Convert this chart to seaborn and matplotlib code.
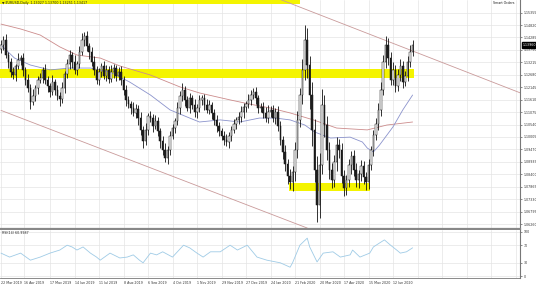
import matplotlib
matplotlib.use("Agg")
import matplotlib.pyplot as plt
import seaborn as sns
import pandas as pd

# ---------------- data ----------------
closes = [
    1.1396, 1.1418, 1.1353, 1.1323, 1.1280, 1.1267, 1.1305, 1.1332, 1.1340, 1.1289,
    1.1246, 1.1211, 1.1151, 1.1177, 1.1211, 1.1246, 1.1254, 1.1289, 1.1246, 1.1220,
    1.1194, 1.1237, 1.1203, 1.1177, 1.1164, 1.1211, 1.1271, 1.1314, 1.1353, 1.1323,
    1.1289, 1.1314, 1.1366, 1.1418, 1.1435, 1.1392, 1.1366, 1.1323, 1.1289, 1.1246,
    1.1280, 1.1305, 1.1263, 1.1289, 1.1250, 1.1280, 1.1297, 1.1263, 1.1280, 1.1246,
    1.1203, 1.1160, 1.1142, 1.1125, 1.1104, 1.1121, 1.1082, 1.1031, 1.0983, 1.1031,
    1.1091, 1.1082, 1.1048, 1.1069, 1.1026, 1.0983, 1.0945, 1.0910, 1.0945, 1.1005,
    1.1039, 1.1069, 1.1125, 1.1177, 1.1203, 1.1160, 1.1125, 1.1168, 1.1138, 1.1108,
    1.1125, 1.1160, 1.1168, 1.1138, 1.1117, 1.1138, 1.1104, 1.1074, 1.1048, 1.1026,
    1.1005, 1.0988, 1.0979, 1.1005, 1.1031, 1.1056, 1.1074, 1.1087, 1.1108, 1.1130,
    1.1142, 1.1160, 1.1181, 1.1194, 1.1168, 1.1125, 1.1130, 1.1104, 1.1082, 1.1108,
    1.1117, 1.1082, 1.1108, 1.1048, 1.0988, 1.0936, 1.0884, 1.0833, 1.0807, 1.0850,
    1.0945, 1.1074, 1.1181, 1.1289, 1.1418, 1.1310, 1.1181, 1.1031, 1.0859, 1.0708,
    1.0880, 1.1138, 1.1052, 1.0945, 1.0859, 1.0816, 1.0893, 1.0966, 1.0945, 1.0833,
    1.0781, 1.0816, 1.0880, 1.0919, 1.0859, 1.0816, 1.0841, 1.0876, 1.0829, 1.0807,
    1.0880, 1.0945, 1.1009, 1.1056, 1.1117, 1.1203, 1.1323, 1.1396, 1.1340, 1.1246,
    1.1289, 1.1220, 1.1267, 1.1305, 1.1237, 1.1263, 1.1323, 1.1366, 1.1396,
]
wick_up_pips = [
    20, 15, 25, 12, 18, 22, 10, 28, 15, 20,
    14, 25, 18, 30, 12, 16, 22, 14, 25, 18,
    12, 30, 15, 20, 18, 26, 14, 22, 20, 15,
    28, 12, 24, 30, 18, 22, 14, 20, 25, 16,
    18, 12, 24, 20, 15, 28, 18, 14, 20, 25,
    16, 22, 18, 12, 26, 20, 15, 24, 18, 30,
    14, 20, 16, 24, 18, 12, 22, 28, 15, 20,
    18, 14, 26, 22, 30, 15, 18, 20, 12, 24,
    16, 22, 14, 18, 26, 20, 12, 16, 22, 18,
    14, 20, 25, 16, 18, 22, 14, 20, 26, 18,
    15, 24, 20, 16, 22, 14, 18, 20, 25, 30,
    16, 22, 18, 24, 20, 15, 28, 22, 30, 25,
    35, 40, 30, 45, 64, 50, 40, 55, 45, 60,
    50, 70, 45, 40, 35, 30, 28, 35, 25, 30,
    24, 22, 28, 20, 25, 30, 18, 24, 20, 22,
    26, 18, 20, 25, 30, 35, 28, 40, 30, 26,
    35, 22, 28, 30, 24, 20, 26, 30, 22,
]
wick_dn_pips = [
    18, 22, 14, 26, 20, 15, 24, 12, 20, 25,
    22, 16, 28, 14, 20, 24, 15, 22, 18, 26,
    20, 14, 24, 18, 30, 16, 22, 15, 20, 24,
    16, 22, 18, 14, 25, 20, 28, 16, 22, 18,
    24, 20, 15, 22, 18, 14, 26, 20, 16, 22,
    20, 26, 18, 24, 15, 22, 28, 20, 30, 16,
    22, 18, 25, 14, 20, 28, 22, 18, 26, 20,
    15, 22, 18, 24, 20, 26, 14, 22, 18, 20,
    24, 16, 20, 22, 14, 18, 26, 20, 24, 22,
    18, 22, 16, 24, 20, 14, 22, 18, 20, 25,
    20, 16, 22, 18, 24, 20, 15, 22, 18, 20,
    22, 18, 26, 20, 24, 30, 28, 35, 30, 40,
    40, 35, 30, 40, 45, 55, 60, 70, 50, 73,
    55, 40, 50, 45, 40, 35, 30, 40, 35, 30,
    35, 28, 30, 40, 25, 30, 35, 28, 30, 35,
    28, 22, 25, 20, 24, 28, 22, 25, 30, 20,
    22, 28, 20, 24, 26, 18, 22, 20, 18,
]
first_open = 1.1380
bars_per_candle = 2

slow_ma_bars = [0, 16, 32, 48, 62, 81, 97, 122, 146, 162, 187, 203, 220, 236, 255, 274, 299, 315, 336]
slow_ma_vals = [1.1486, 1.1465, 1.1439, 1.1388, 1.1353, 1.1340, 1.1306, 1.1267, 1.1216, 1.1190,
                1.1160, 1.1142, 1.1125, 1.1104, 1.1074, 1.1039, 1.1031, 1.1052, 1.1065]

fast_ma_bars = [0, 11, 24, 40, 56, 73, 89, 105, 122, 138, 154, 162, 179, 195, 211, 224, 236, 248,
                256, 269, 285, 295, 299, 304, 309, 320, 328, 336]
fast_ma_vals = [1.1396, 1.1340, 1.1310, 1.1289, 1.1297, 1.1297, 1.1280, 1.1237, 1.1181, 1.1117,
                1.1082, 1.1065, 1.1074, 1.1065, 1.1082, 1.1082, 1.1074, 1.1052, 1.1022, 1.0996,
                1.1000, 1.0979, 1.0953, 1.0936, 1.0966, 1.1044, 1.1117, 1.1181]

rsi_bars = [0, 7, 16, 24, 32, 40, 48, 54, 58, 62, 67, 73, 78, 81, 89, 97, 103, 108, 113, 116,
            122, 127, 132, 140, 149, 154, 160, 165, 171, 179, 187, 193, 201, 209, 217, 228, 236, 238,
            244, 250, 252, 258, 263, 271, 277, 285, 287, 293, 301, 304, 309, 313, 318, 323, 326, 331, 336]
rsi_vals = [52, 43, 52, 36, 43, 52, 59, 70, 66, 59, 66, 52, 43, 36, 52, 41, 43, 48, 36, 30,
            52, 48, 55, 43, 70, 64, 52, 43, 55, 55, 70, 59, 70, 43, 36, 30, 20, 30,
            70, 86, 66, 32, 52, 55, 43, 48, 59, 43, 52, 66, 75, 82, 70, 59, 52, 55, 64]

# channel trend lines (bar, price)
upper_line_bars = [225, 424]
upper_line_prices = [1.1598, 1.1190]
lower_line_bars = [0, 250]
lower_line_prices = [1.1115, 1.0609]

# yellow zones: start bar, end bar, low price, high price
zone_starts = [-1, -1, 235]
zone_ends = [244, 337, 301]
zone_lows = [1.1572, 1.1254, 1.0768]
zone_highs = [1.1600, 1.1293, 1.0803]

date_tick_bars = [0, 19, 40, 60, 80, 100, 120, 140, 160, 180, 200, 220, 240, 260, 280, 300, 320]
date_labels = ["22 Mar 2019", "16 Apr 2019", "17 May 2019", "14 Jun 2019", "11 Jul 2019",
               "8 Aug 2019", "6 Sep 2019", "4 Oct 2019", "1 Nov 2019", "29 Nov 2019",
               "27 Dec 2019", "24 Jan 2020", "21 Feb 2020", "20 Mar 2020", "17 Apr 2020",
               "15 May 2020", "12 Jun 2020"]
extra_grid_bars = [340, 360, 380, 400, 420]
price_ticks = [1.06260, 1.06795, 1.07330, 1.07865, 1.08400, 1.08935, 1.09470, 1.10005, 1.10540,
               1.11075, 1.11610, 1.12145, 1.12680, 1.13215, 1.13750, 1.14285, 1.14820, 1.15355]
rsi_ticks = [0, 30, 70, 100]

header_text = "EURUSD,Daily  1.13027 1.13700 1.13251 1.13417"
rsi_text = "RSI(14) 60.9987"

# ---------------- style ----------------
sns.set_style("white")
plt.rcParams["font.family"] = ["DejaVu Sans"]

W, H = 536, 284
fig = plt.figure(figsize=(W / 100, H / 100), dpi=100)
fig.patch.set_facecolor("white")
ax = fig.add_axes([0, 1 - 229 / H, 520 / W, 229 / H])
ax2 = fig.add_axes([0, 1 - 278 / H, 520 / W, 48 / H], sharex=ax)

xmin, xmax = -0.816, 423.67
ax.set_xlim(xmin, xmax)
ax.set_ylim(1.06049, 1.15896)
ax2.set_ylim(-4.5, 104.5)

grid_col = "#e4e4e4"
yellow = "#f4f400"

# zones
for s, e, lo, hi in zip(zone_starts, zone_ends, zone_lows, zone_highs):
    ax.fill_between([s, e], [lo, lo], [hi, hi], color=yellow, lw=0, zorder=1)

# candles
df = pd.DataFrame({"close": closes, "wu": wick_up_pips, "wd": wick_dn_pips})
df["bar"] = df.index * bars_per_candle
df["open"] = [first_open] + closes[:-1]
df["high"] = df[["open", "close"]].max(axis=1) + df["wu"] * 1e-4
df["low"] = df[["open", "close"]].min(axis=1) - df["wd"] * 1e-4
ax.vlines(df["bar"], df["low"], df["high"], color="#111111", lw=0.6, zorder=3)
up = df[df["close"] >= df["open"]]
dn = df[df["close"] < df["open"]]
ax.bar(up["bar"], (up["close"] - up["open"]).clip(lower=0.00015), bottom=up["open"], width=1.3,
       color="white", edgecolor="#111111", lw=0.35, zorder=4)
ax.bar(dn["bar"], dn["open"] - dn["close"], bottom=dn["close"], width=1.3,
       color="#222222", edgecolor="#111111", lw=0.35, zorder=4)

# moving averages & channel lines
sns.lineplot(x=slow_ma_bars, y=slow_ma_vals, ax=ax, color="#cc8c8c", lw=0.6, zorder=2)
sns.lineplot(x=fast_ma_bars, y=fast_ma_vals, ax=ax, color="#8b93cc", lw=0.6, zorder=2)
sns.lineplot(x=upper_line_bars, y=upper_line_prices, ax=ax, color="#c99a9a", lw=0.6, zorder=2)
sns.lineplot(x=lower_line_bars, y=lower_line_prices, ax=ax, color="#c99a9a", lw=0.6, zorder=2)

# RSI
sns.lineplot(x=rsi_bars, y=rsi_vals, ax=ax2, color="#9fcbe6", lw=0.6)

# axes / grids
for a in (ax, ax2):
    a.set_xticks(date_tick_bars + extra_grid_bars)
    a.grid(True, color=grid_col, lw=0.5)
    a.set_axisbelow(True)
    for sp in ("left", "top"):
        a.spines[sp].set_visible(False)
    a.spines["right"].set_color("#777777")
    a.spines["right"].set_linewidth(0.8)
    a.yaxis.tick_right()
    a.tick_params(axis="y", labelsize=2.3, length=1.5, width=0.4, pad=1, colors="#333333")
    a.set_xlabel("")
    a.set_ylabel("")

ax.spines["bottom"].set_color("#888888")
ax.spines["bottom"].set_linewidth(1.6)
ax.set_yticks(price_ticks)
ax.set_yticklabels([f"{p:.5f}" for p in price_ticks])
ax.tick_params(axis="x", bottom=False, labelbottom=False)

ax2.set_yticks(rsi_ticks)
ax2.set_yticklabels([str(v) for v in rsi_ticks])
ax2.spines["bottom"].set_color("#777777")
ax2.spines["bottom"].set_linewidth(0.6)
ax2.set_xticklabels(date_labels + [""] * len(extra_grid_bars), ha="left")
ax2.tick_params(axis="x", labelsize=2.3, length=1.5, width=0.4, pad=0.5, colors="#333333")

# texts
ax.text(0.004, 0.997, "\u25bc " + header_text, transform=ax.transAxes, fontsize=2.3,
        va="top", ha="left", color="#222222", zorder=6)
ax2.text(0.004, 0.97, rsi_text, transform=ax2.transAxes, fontsize=2.3,
         va="top", ha="left", color="#222222")
fig.text(493 / W, 1 - 3 / H, "Smart Orders", fontsize=2.3, va="center", ha="left", color="#222222")

# current price box
last = closes[-1]
ax.annotate(f"{last:.5f}", xy=(1.0, last), xycoords=("axes fraction", "data"),
            xytext=(2, 0), textcoords="offset points", fontsize=2.3, color="white",
            va="center", ha="left", annotation_clip=False, zorder=10,
            bbox=dict(boxstyle="square,pad=0.25", fc="black", ec="black"))

fig.savefig("out.png", dpi=100, facecolor="white")
